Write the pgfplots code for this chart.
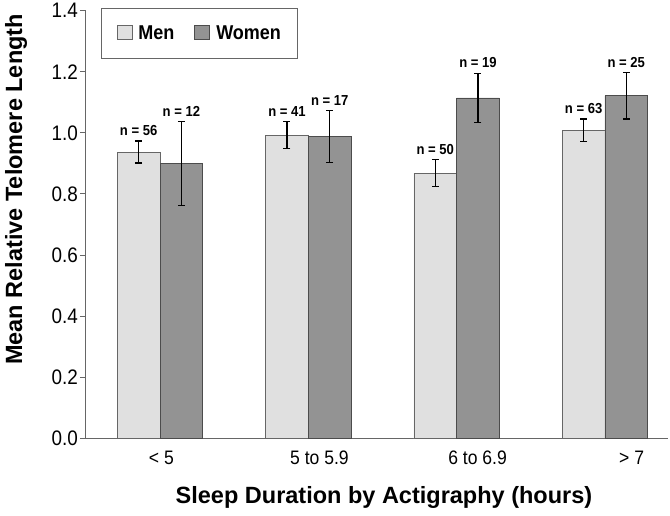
\documentclass[border=0pt]{standalone}
\usepackage{pgfplots}
\pgfplotsset{compat=1.18}
\usepackage{fontspec}
\setmainfont{Liberation Sans}
\newfontfamily\narrowfont{Liberation Sans}[FakeStretch=0.9]
\definecolor{menfill}{HTML}{E0E0E0}
\definecolor{womenfill}{HTML}{939393}
\definecolor{axgray}{HTML}{666666}
\begin{document}
\begin{tikzpicture}
\begin{axis}[
  scale only axis, width=582pt, height=428pt,
  xmin=-0.499, xmax=3.425, ymin=0, ymax=1.4,
  axis lines=left,
  axis line style={-, axgray, line width=1pt},
  ytick={0,0.2,0.4,0.6,0.8,1.0,1.2,1.4},
  yticklabel style={/pgf/number format/fixed, /pgf/number format/fixed zerofill, /pgf/number format/precision=1, /pgf/number format/assume math mode=true},
  y tick label style={font=\narrowfont\fontsize{21}{24}\selectfont, xshift=1.5pt},
  ytick style={axgray, line width=1pt},
  tick align=outside, major tick length=6pt,
  xtick={0.009,1.075,2.141,3.18},
  xticklabels={{< 5},{5 to 5.9},{6 to 6.9},{> 7}},
  x tick style={draw=none},
  x tick label style={font=\narrowfont\fontsize{19.5}{22}\selectfont, yshift=-3pt},
  xlabel={Sleep Duration by Actigraphy (hours)},
  ylabel={Mean Relative Telomere Length},
  label style={font=\bfseries\fontsize{23.5}{27}\selectfont},
  xlabel style={at={(axis description cs:0.512,-0.138)}, anchor=center},
  ylabel style={at={(axis description cs:-0.120,0.582)}, anchor=center},
  ybar=0pt, bar width=42.7pt,
  clip=false,
  legend columns=2,
  legend style={at={(axis description cs:0.0258,1.005)}, anchor=north west,
    draw=axgray, line width=1pt, inner xsep=15pt, inner ysep=15pt,
    font=\narrowfont\bfseries\fontsize{20}{23}\selectfont,
    /tikz/every odd column/.append style={column sep=4pt},
    /tikz/every even column/.append style={column sep=18pt}},
  legend image code/.code={\draw[#1, line width=0.9pt] (0pt,-6pt) rectangle (15pt,8pt);},
  error bars/error bar style={black, line width=1.3pt},
  error bars/error mark options={rotate=90, mark size=3.5pt, line width=1.3pt, black},
]
\addplot[fill=menfill, draw=axgray, line width=0.8pt,
  error bars/.cd, y dir=both, y explicit]
  coordinates {(0,0.937) +- (0,0.036) (1,0.992) +- (0,0.044) (2,0.868) +- (0,0.044) (3,1.008) +- (0,0.037)};
\addplot[fill=womenfill, draw=black!70, line width=0.8pt,
  error bars/.cd, y dir=both, y explicit]
  coordinates {(0,0.900) +- (0,0.137) (1,0.989) +- (0,0.085) (2,1.114) +- (0,0.081) (3,1.121) +- (0,0.076)};
\legend{Men, Women}
\tikzset{nlab/.style={anchor=south, inner sep=0pt, yshift=5pt, font=\narrowfont\bfseries\fontsize{14.5}{16}\selectfont}}
\node[nlab] at (axis cs:-0.144,0.973) {n = 56};
\node[nlab] at (axis cs:0.144,1.037) {n = 12};
\node[nlab] at (axis cs:0.856,1.036) {n = 41};
\node[nlab] at (axis cs:1.144,1.074) {n = 17};
\node[nlab] at (axis cs:1.856,0.912) {n = 50};
\node[nlab] at (axis cs:2.144,1.195) {n = 19};
\node[nlab] at (axis cs:2.856,1.045) {n = 63};
\node[nlab] at (axis cs:3.144,1.197) {n = 25};
\coordinate (o) at (rel axis cs:0,0);
\end{axis}
\path (o) ++(-86pt,-77pt) rectangle ++(670pt,515pt);
\end{tikzpicture}
\end{document}
